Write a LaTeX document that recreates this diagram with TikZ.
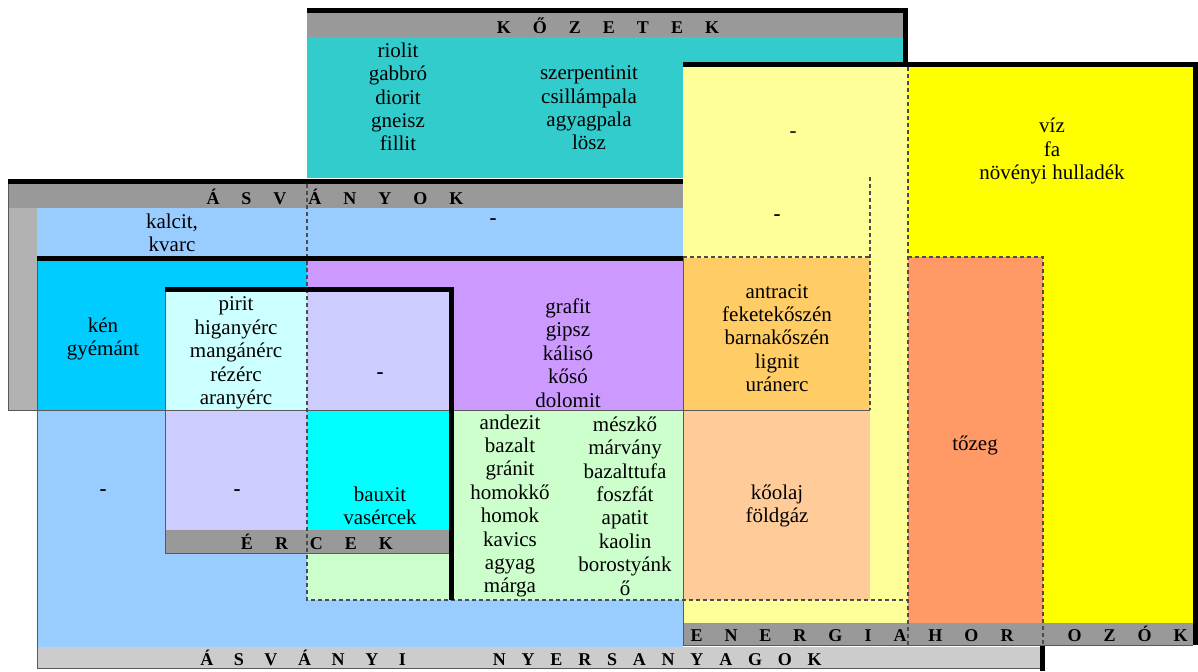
\documentclass[tikz,border=0pt]{standalone}
\usepackage{fontspec}
\setmainfont{Liberation Serif}
\definecolor{kozetcolor}{HTML}{33CCCC}
\definecolor{headgray}{HTML}{999999}
\definecolor{lightheadgray}{HTML}{CCCCCC}
\definecolor{sidegray}{HTML}{B2B2B2}
\definecolor{asvanyblue}{HTML}{99CCFF}
\definecolor{kenblue}{HTML}{00CCFF}
\definecolor{lila}{HTML}{CC99FF}
\definecolor{zold}{HTML}{CCFFCC}
\definecolor{halvanycian}{HTML}{CCFFFF}
\definecolor{levendula}{HTML}{CCCCFF}
\definecolor{cian}{HTML}{00FFFF}
\definecolor{szencolor}{HTML}{FFCC66}
\definecolor{olajcolor}{HTML}{FFCC99}
\definecolor{halvanysarga}{HTML}{FFFF99}
\definecolor{sarga}{HTML}{FFFF00}
\definecolor{tozegcolor}{HTML}{FF9966}
\newcommand{\widesp}{\spaceskip=11pt\relax}
\usetikzlibrary{positioning}

\begin{document}
\begin{tikzpicture}[
      x=0.5pt, y=-0.5pt,
      item/.style={align=center, inner sep=0pt, font=\fontsize{10.5}{11.7}\selectfont},
      head/.style={inner sep=0pt, font=\bfseries\fontsize{9}{10}\selectfont},
      border/.style={draw=black, line width=2.5pt},
      thin/.style={draw=black!65, line width=0.5pt},
      sep/.style={draw=black!70, line width=0.6pt, dash pattern=on 2pt off 1.5pt}
    ]
    \useasboundingbox (0,0) rectangle (1198,671);
    % kozetek
    \fill[kozetcolor] (307,37) rectangle (903,178);
    \fill[headgray] (307,13) rectangle (903,37);
    \draw[border] (307,10.5) -- (905.5,10.5) -- (905.5,64);
    % asvanyok
    \fill[headgray] (8,184) rectangle (683,208);
    \fill[sidegray] (8,208) rectangle (37,410);
    \fill[asvanyblue] (37,208) rectangle (683,258);
    % asvanyi nyersanyagok
    \fill[asvanyblue] (37,410) rectangle (683,647);
    \fill[lightheadgray] (37,647) rectangle (1043,668);
    \fill[kenblue] (37,261) rectangle (307,410);
    \fill[lila] (307,261) rectangle (683,410);
    \fill[zold] (307,410) rectangle (683,600);
    % energiahordozok
    \fill[halvanysarga] (683,67) rectangle (908,623);
    \fill[sarga] (908,67) rectangle (1193,623);
    \fill[tozegcolor] (908,257) rectangle (1043,623);
    \fill[headgray] (683,623) rectangle (1196,645);
    \fill[szencolor] (683,258) rectangle (870,410);
    \fill[olajcolor] (683,410) rectangle (870,600);
    % ercek
    \fill[halvanycian] (165,292) rectangle (307,410);
    \fill[levendula] (307,292) rectangle (449,410);
    \fill[levendula] (165,410) rectangle (307,530);
    \fill[cian] (307,410) rectangle (449,530);
    \fill[headgray] (165,530) rectangle (449,553);
    % thin edges
    \draw[thin] (8,181) -- (8,410) -- (870,410);
    \draw[thin] (37,261) -- (37,668) -- (1043,668);
    \draw[thin] (683,258) -- (683,645) -- (1193,645);
    \draw[thin] (165,292) -- (165,553) -- (449,553);
    % dashed edges
    \draw[sep] (307,184) -- (307,600) -- (908,600);
    \draw[sep] (908,67) -- (908,645);
    \draw[sep] (870,177) -- (870,410);
    \draw[sep] (683,257) -- (870,257);
    \draw[sep] (908,257) -- (1043,257) -- (1043,645);
    % black borders
    \draw[border] (8,181) -- (683,181);
    \draw[border] (37,258.5) -- (683,258.5);
    \draw[border] (683,64.5) -- (1195.5,64.5) -- (1195.5,645);
    \draw[border] (1042.5,646) -- (1042.5,671);
    \draw[border] (165,289.5) -- (451.5,289.5) -- (451.5,600);
    % headers
    \node[head] (kozetek) at (608,26) {\widesp K Ő Z E T E K};
    \node[head] (asvanyok) at (335,197) {\widesp Á S V Á N Y O K};
    \node[head] (ercek) at (317,542) {\widesp É R C E K};
    \node[head] (energia) at (939,634) {\widesp E N E R G I A H O R\hspace{16pt} O Z Ó K};
    \node[head] (nyersanyag) at (511,658) {{\spaceskip=10.3pt\relax Á S V Á N Y I}\hspace{43.5pt}{\spaceskip=7.9pt\relax N Y E R S A N Y A G O K}};
    % texts
    \node[item] (kozet1) at (398,97) {riolit\\gabbró\\diorit\\gneisz\\fillit};
    \node[item] (kozet2) at (589,108) {szerpentinit\\csillámpala\\agyagpala\\lösz};
    \node[item] (kalcit) at (172,233) {kalcit,\\kvarc};
    \node[item] (asvany0) at (493,222) {\textbf{-}};
    \node[item] (ken) at (103,339) {kén\\gyémánt};
    \node[item] (pirit) at (236,353) {pirit\\higanyérc\\mangánérc\\rézérc\\aranyérc};
    \node[item] (erc0) at (380,376) {\textbf{-}};
    \node[item] (grafit) at (568,353) {grafit\\gipsz\\kálisó\\kősó\\dolomit};
    \node[item] (szen) at (777,338) {antracit\\feketekőszén\\barnakőszén\\lignit\\uránerc};
    \node[item] (nyers0) at (103,493) {\textbf{-}};
    \node[item] (erc1) at (237,493) {\textbf{-}};
    \node[item] (bauxit) at (380,506) {bauxit\\vasércek};
    \node[item] (kozet3) at (510,506) {andezit\\bazalt\\gránit\\homokkő\\homok\\kavics\\agyag\\márga};
    \node[item] (kozet4) at (625,506) {mészkő\\márvány\\bazalttufa\\foszfát\\apatit\\kaolin\\borostyánk\\ő};
    \node[item] (olaj) at (777,506) {kőolaj\\földgáz};
    \node[item] (energia0) at (793,135) {-};
    \node[item] (energia1) at (777,218) {\textbf{-}};
    \node[item] (viz) at (1052,151) {víz\\fa\\növényi hulladék};
    \node[item] (tozeg) at (975,445) {tőzeg};
  \end{tikzpicture}
\end{document}
